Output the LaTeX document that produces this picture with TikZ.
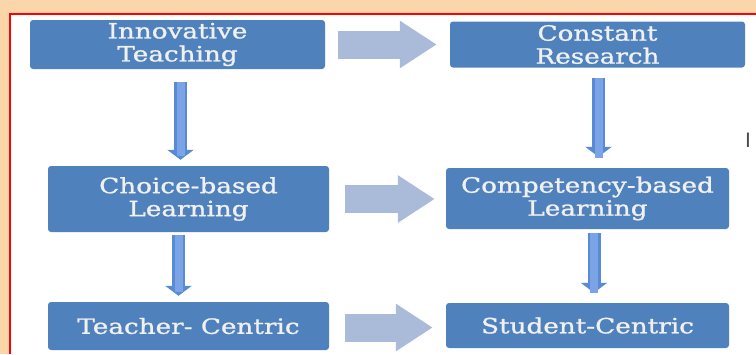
\documentclass[tikz,border=0pt]{standalone}
\usepackage{fontspec}
\newfontfamily\boxfont[FakeStretch=1.25, FakeBold=1.2]{DejaVu Serif}
\newfontfamily\markfont{Liberation Sans}
\usetikzlibrary{arrows.meta}
\definecolor{boxblue}{RGB}{79,129,189}
\definecolor{arrgray}{RGB}{170,187,217}
\definecolor{arrblue}{RGB}{88,138,214}
\definecolor{arrlight}{RGB}{122,164,230}
\definecolor{peach}{RGB}{251,214,170}
\begin{document}
\begin{tikzpicture}[x=1pt, y=-1pt,
  box/.style={fill=boxblue, rounded corners=3pt, text=white!94!black, align=center, inner sep=0pt,
    font=\boxfont\fontsize{21}{23}\selectfont},
  bigarr/.style={draw=arrgray, line width=28pt, -{Triangle[width=45pt, length=37pt]}},
  downarr/.style={draw=arrblue, line width=13pt, -{Triangle[width=26pt, length=10pt]},
    postaction={draw=arrlight, line width=8pt, -, shorten >=10pt}}]

\useasboundingbox (0,0) rectangle (756,354);
\fill[peach] (0,0) rectangle (756,14);
\fill[peach] (0,0) rectangle (10,354);
\draw[red, line width=2pt] (10,354) -- (10,14) -- (756,14);

\node[box, minimum width=295pt, minimum height=49pt] (inno) at (177.5, 44.5) {Innovative\\Teaching};
\node[box, minimum width=295pt, minimum height=46pt] (const) at (597.5, 44.5) {Constant\\Research};
\node[box, minimum width=281pt, minimum height=66pt] (choice) at (188.5, 199) {Choice-based\\Learning};
\node[box, minimum width=283pt, minimum height=61pt] (comp) at (587.5, 198.5) {Competency-based\\Learning};
\node[box, minimum width=281pt, minimum height=48pt] (teacher) at (188.5, 326) {Teacher- Centric};
\node[box, minimum width=283pt, minimum height=45pt] (student) at (587.5, 325.5) {Student-Centric};
\node[text=black!70, inner sep=0pt, font=\markfont\fontsize{21}{21}\selectfont] (mark) at (748, 140.5) {I};

\draw[bigarr, shorten <=13pt, shorten >=13pt] (inno.east) -- (inno.east -| const.west);
\draw[bigarr, shorten <=16pt, shorten >=11pt] (choice.east) -- (choice.east -| comp.west);
\draw[bigarr, shorten <=16pt, shorten >=13pt] ([yshift=-1.5pt]teacher.east) -- ([yshift=-1.5pt]teacher.east -| student.west);

\draw[downarr, shorten <=13pt, shorten >=6pt] ([xshift=3pt]inno.south) -- ([xshift=3pt]inno.south |- choice.north);
\draw[downarr, shorten <=10.5pt, shorten >=11pt] ([xshift=1pt]const.south) -- ([xshift=1pt]const.south |- comp.north);
\draw[downarr, shorten <=3pt, shorten >=6pt] ([xshift=-10pt]choice.south) -- ([xshift=-10pt]choice.south |- teacher.north);
\draw[downarr, shorten <=4pt, shorten >=10pt] ([xshift=6.5pt]comp.south) -- ([xshift=6.5pt]comp.south |- student.north);

\end{tikzpicture}
\end{document}
